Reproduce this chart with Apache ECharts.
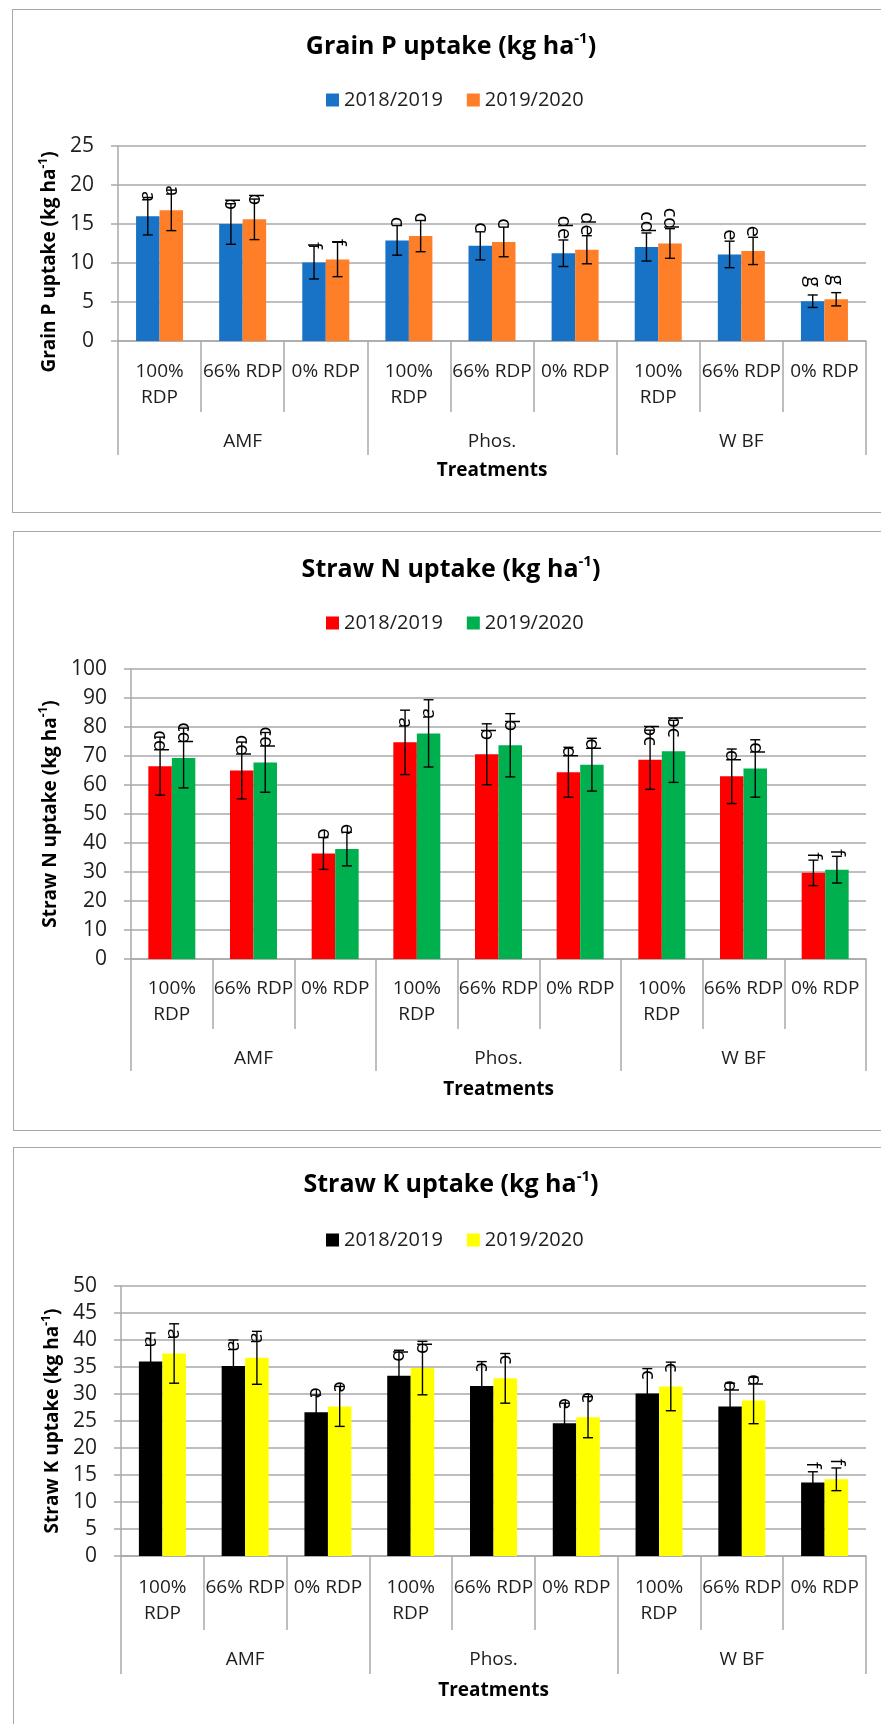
<!DOCTYPE html>
<html>
<head>
<meta charset="utf-8">
<script src="https://cdn.jsdelivr.net/npm/echarts@6/dist/echarts.min.js"></script>
<style>
  html, body { margin: 0; padding: 0; background: #fff; width: 881px; height: 1724px; overflow: hidden; }
  .frame { position: absolute; border: 1.5px solid #a8a8a8; box-sizing: border-box; }
  .chart { position: absolute; left: 0; width: 881px; }
</style>
</head>
<body>
<div class="frame" style="left:12px; top:9px; width:900px; height:504px;"></div>
<div class="frame" style="left:13px; top:531px; width:900px; height:600px;"></div>
<div class="frame" style="left:13px; top:1147px; width:900px; height:620px;"></div>
<div id="c1" class="chart" style="top:0px; height:522px;"></div>
<div id="c2" class="chart" style="top:522px; height:614px;"></div>
<div id="c3" class="chart" style="top:1138px; height:586px;"></div>
<script>
// Treatment levels (lower axis row) and inoculant groups (upper axis row)
const treatments = ['100%\nRDP', '66% RDP', '0% RDP', '100%\nRDP', '66% RDP', '0% RDP', '100%\nRDP', '66% RDP', '0% RDP'];
const groups = ['AMF', 'Phos.', 'W BF'];
const seasons = ['2018/2019', '2019/2020'];

// Grain P uptake (kg ha-1)
const grainP_1819 = [16.0, 15.0, 10.05, 12.9, 12.2, 11.25, 12.05, 11.1, 5.1];
const grainP_1920 = [16.75, 15.6, 10.45, 13.45, 12.7, 11.7, 12.5, 11.55, 5.35];
const grainP_err1819 = [2.4, 2.6, 2.1, 1.9, 1.8, 1.7, 1.8, 1.7, 0.8];
const grainP_err1920 = [2.6, 2.6, 2.2, 2.0, 1.9, 1.8, 1.9, 1.75, 0.85];
const grainP_letters = ['a', 'b', 'f', 'c', 'c', 'de', 'cd', 'e', 'g'];

// Straw N uptake (kg ha-1)
const strawN_1819 = [66.5, 65.0, 36.4, 74.7, 70.6, 64.4, 68.7, 63.0, 29.7];
const strawN_1920 = [69.3, 67.8, 37.9, 77.8, 73.7, 67.0, 71.6, 65.7, 30.8];
const strawN_err1819 = [10.0, 9.8, 5.5, 11.1, 10.5, 8.6, 10.2, 9.4, 4.4];
const strawN_err1920 = [10.3, 10.3, 5.8, 11.6, 10.9, 9.1, 10.7, 9.9, 4.6];
const strawN_letters = ['cd', 'cd', 'e', 'a', 'b', 'd', 'bc', 'd', 'f'];

// Straw K uptake (kg ha-1)
const strawK_1819 = [36.0, 35.2, 26.6, 33.4, 31.5, 24.6, 30.1, 27.7, 13.6];
const strawK_1920 = [37.5, 36.7, 27.7, 34.8, 32.9, 25.7, 31.4, 28.8, 14.2];
const strawK_err1819 = [5.3, 4.8, 3.2, 4.7, 4.5, 3.7, 4.6, 4.3, 2.0];
const strawK_err1920 = [5.5, 4.9, 3.7, 4.95, 4.6, 3.8, 4.5, 4.3, 2.1];
const strawK_letters = ['a', 'a', 'e', 'b', 'c', 'e', 'c', 'd', 'f'];

const FONT = "'Open Sans', 'Noto Sans', sans-serif";
const GRAY = '#a9a9a9';
const TEXT = '#1e1e1e';
const BAR_W = 23.5;

function supText(main) {
  return '{t|' + main + ' (kg ha}{s|-1}{t|)}';
}

// Error bar with caps plus the rotated significance letter above the bar
function errorSeries(values, errs, letters, side) {
  return {
    type: 'custom',
    xAxisIndex: 0,
    yAxisIndex: 0,
    z: 5,
    silent: true,
    clip: false,
    data: values.map((v, i) => [i, v, errs[i]]),
    renderItem(params, api) {
      const i = api.value(0), v = api.value(1), e = api.value(2);
      const top = api.coord([i, v]);
      const x = top[0] + side * BAR_W / 2;
      const yHi = api.coord([i, v + e])[1];
      const yLo = api.coord([i, v - e])[1];
      const capW = 5;
      const ls = { stroke: '#000', lineWidth: 1.4 };
      return {
        type: 'group',
        children: [
          { type: 'line', shape: { x1: x, y1: yHi, x2: x, y2: yLo }, style: ls },
          { type: 'line', shape: { x1: x - capW, y1: yHi, x2: x + capW, y2: yHi }, style: ls },
          { type: 'line', shape: { x1: x - capW, y1: yLo, x2: x + capW, y2: yLo }, style: ls },
          {
            type: 'text', x: x, y: top[1] - 14, rotation: -Math.PI / 2,
            style: {
              text: letters[params.dataIndex], align: 'right', verticalAlign: 'middle',
              textAlign: 'right', textVerticalAlign: 'middle',
              font: '20px ' + FONT, fill: '#000'
            }
          }
        ]
      };
    }
  };
}

function buildOption(c) {
  const rich = {
    t: { fontFamily: FONT, fontWeight: 'bold', color: '#000' },
    s: { fontFamily: FONT, fontWeight: 'bold', color: '#000', verticalAlign: 'top' }
  };
  return {
    animation: false,
    textStyle: { fontFamily: FONT },
    title: {
      text: supText(c.name), left: 451, textAlign: 'center', top: c.titleTop, padding: 0,
      textStyle: {
        rich: {
          t: Object.assign({}, rich.t, { fontSize: 25, lineHeight: 32 }),
          s: Object.assign({}, rich.s, { fontSize: 15, lineHeight: 16 })
        }
      }
    },
    legend: {
      data: seasons, left: 326, top: c.legendTop, padding: 0,
      icon: 'rect', itemWidth: 13, itemHeight: 13, itemGap: 24,
      textStyle: { fontSize: 20, color: TEXT, fontFamily: FONT }
    },
    grid: { left: c.left, right: 15, top: c.gridTop, bottom: c.gridBottom, containLabel: false },
    xAxis: [
      {
        type: 'category', data: treatments, position: 'bottom',
        axisLine: { show: true, lineStyle: { color: GRAY, width: 1.5 } },
        axisTick: { show: true, interval: 0, length: c.tickLen, lineStyle: { color: GRAY, width: 1.5 } },
        axisLabel: { interval: 0, margin: c.labMargin, fontSize: 19, lineHeight: 26, color: TEXT, fontFamily: FONT }
      },
      {
        type: 'category', data: groups, position: 'bottom', offset: 0,
        axisLine: { show: false },
        axisTick: { show: true, interval: 0, length: c.groupTickLen, lineStyle: { color: GRAY, width: 1.5 } },
        axisLabel: { interval: 0, margin: c.groupMargin, fontSize: 19, lineHeight: 24, color: TEXT, fontFamily: FONT },
        name: 'Treatments', nameLocation: 'middle', nameGap: c.nameGapX,
        nameTextStyle: { fontSize: 19, fontWeight: 'bold', color: '#000', lineHeight: 22, fontFamily: FONT }
      }
    ],
    yAxis: {
      type: 'value', min: 0, max: c.yMax, interval: c.yStep,
      axisLine: { show: true, lineStyle: { color: GRAY, width: 1.5 } },
      axisTick: { show: true, length: 7, lineStyle: { color: GRAY, width: 1.5 } },
      splitLine: { show: true, lineStyle: { color: GRAY, width: 1.5 } },
      axisLabel: { margin: 24, fontSize: 21, color: TEXT, fontFamily: FONT },
      name: supText(c.name), nameLocation: 'middle', nameRotate: 90, nameGap: c.nameGapY,
      nameTextStyle: {
        padding: c.namePad,
        rich: {
          t: Object.assign({}, rich.t, { fontSize: 19, lineHeight: 25 }),
          s: Object.assign({}, rich.s, { fontSize: 12, lineHeight: 13 })
        }
      }
    },
    series: [
      { name: seasons[0], type: 'bar', data: c.s1, barWidth: BAR_W, barGap: '0%', itemStyle: { color: c.colors[0] } },
      { name: seasons[1], type: 'bar', data: c.s2, barWidth: BAR_W, barGap: '0%', itemStyle: { color: c.colors[1] } },
      errorSeries(c.s1, c.e1, c.letters, -1),
      errorSeries(c.s2, c.e2, c.letters, 1)
    ]
  };
}

const charts = [
  {
    id: 'c1', name: 'Grain P uptake', yMax: 25, yStep: 5,
    s1: grainP_1819, s2: grainP_1920, e1: grainP_err1819, e2: grainP_err1920, letters: grainP_letters,
    colors: ['#1872c6', '#fe7f27'],
    left: 118, gridTop: 146, gridBottom: 181, titleTop: 31, legendTop: 90,
    tickLen: 71, groupTickLen: 114, labMargin: 18, groupMargin: 89, nameGapX: 119,
    nameGapY: 51, namePad: [0, 37, 0, 0]
  },
  {
    id: 'c2', name: 'Straw N uptake', yMax: 100, yStep: 10,
    s1: strawN_1819, s2: strawN_1920, e1: strawN_err1819, e2: strawN_err1920, letters: strawN_letters,
    colors: ['#ff0000', '#00b04f'],
    left: 131, gridTop: 147, gridBottom: 177, titleTop: 32, legendTop: 91,
    tickLen: 70, groupTickLen: 112, labMargin: 17, groupMargin: 88, nameGapX: 120,
    nameGapY: 59, namePad: 0
  },
  {
    id: 'c3', name: 'Straw K uptake', yMax: 50, yStep: 5,
    s1: strawK_1819, s2: strawK_1920, e1: strawK_err1819, e2: strawK_err1920, letters: strawK_letters,
    colors: ['#000000', '#ffff00'],
    left: 121, gridTop: 148, gridBottom: 168, titleTop: 31, legendTop: 92,
    tickLen: 74, groupTickLen: 118, labMargin: 19, groupMargin: 92, nameGapX: 124,
    nameGapY: 49, namePad: 0
  }
];

charts.forEach(c => {
  const chart = echarts.init(document.getElementById(c.id), null, { renderer: 'canvas' });
  chart.setOption(buildOption(c));
});
</script>
</body>
</html>
